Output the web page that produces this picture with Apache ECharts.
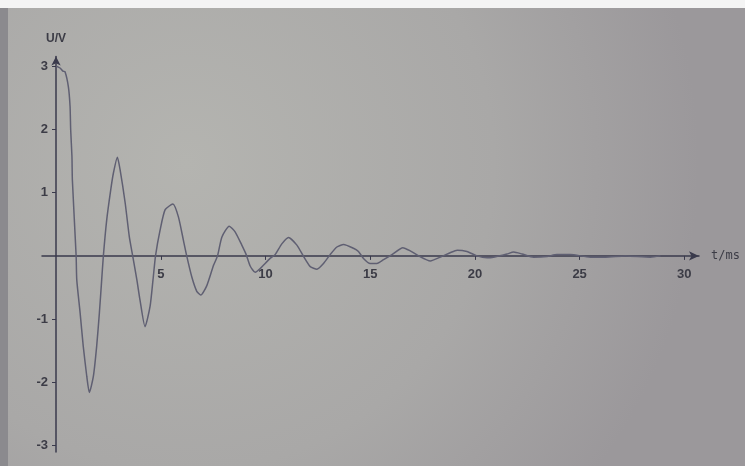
<!DOCTYPE html>
<html>
<head>
<meta charset="utf-8">
<script src="https://cdn.jsdelivr.net/npm/echarts@6/dist/echarts.min.js"></script>
<style>html,body{margin:0;padding:0;}#c{width:745px;height:466px;}</style>
</head>
<body>
<div id="c"></div>
<script>
// time in ms
var tValues = [0.02,0.19,0.33,0.43,0.59,0.67,0.70,0.76,0.78,0.96,0.99,1.15,1.30,1.47,1.59,1.78,1.94,2.07,2.18,2.26,2.42,2.61,2.74,2.93,3.06,3.30,3.50,3.66,3.86,4.01,4.25,4.49,4.63,4.75,4.97,5.21,5.58,5.84,6.08,6.24,6.48,6.72,6.91,7.20,7.52,7.71,7.92,8.27,8.55,8.87,9.08,9.27,9.51,9.75,10.22,10.46,10.78,11.10,11.50,11.82,12.14,12.46,12.77,13.09,13.41,13.73,14.20,14.44,14.68,15.00,15.32,15.64,16.04,16.56,16.91,17.31,17.87,18.35,18.82,19.15,19.62,20.10,20.58,20.89,21.53,21.85,22.25,22.80,23.44,23.92,24.56,25.51,26.23,27.19,28.38,28.86];
// voltage in V
var uValues = [3.00,2.97,2.92,2.91,2.67,2.36,1.99,1.57,1.20,0.00,-0.38,-0.90,-1.43,-1.91,-2.16,-1.91,-1.43,-0.90,-0.38,0.00,0.57,1.04,1.31,1.56,1.36,0.84,0.30,0.00,-0.38,-0.70,-1.12,-0.80,-0.38,0.00,0.41,0.73,0.82,0.62,0.25,0.00,-0.33,-0.56,-0.62,-0.47,-0.15,0.00,0.30,0.47,0.38,0.17,0.02,-0.16,-0.26,-0.20,-0.04,0.02,0.19,0.29,0.17,-0.01,-0.17,-0.21,-0.12,0.02,0.14,0.18,0.12,0.07,-0.04,-0.12,-0.12,-0.06,0.02,0.13,0.08,0.00,-0.08,-0.02,0.05,0.09,0.07,0.00,-0.03,-0.02,0.03,0.06,0.03,-0.02,-0.01,0.02,0.02,-0.02,-0.02,0.00,-0.02,0.00];
var xTicks = [5,10,15,20,25,30];
var yTicks = [-3,-2,-1,1,2,3];

var data = tValues.map(function(t,i){return [t,uValues[i]];});
var chart = echarts.init(document.getElementById('c'), null, {renderer:'canvas'});
var labelFont = {fontFamily:'Liberation Sans', fontSize:13, fontWeight:'bold', color:'#3c3c46'};
chart.setOption({
  animation:false,
  backgroundColor:{type:'radial', x:0.25, y:0.35, r:1.1, colorStops:[{offset:0,color:'#b4b4b0'},{offset:0.6,color:'#a9a8a7'},{offset:1,color:'#9b989b'}]},
  graphic:[
    {type:'rect', left:0, top:0, shape:{width:745,height:8}, style:{fill:'#f4f4f4'}, z:-1},
    {type:'rect', left:0, top:8, shape:{width:8,height:458}, style:{fill:'#8b8a8e'}, z:-1}
  ],
  grid:{left:42, right:46, top:56.6, bottom:14, containLabel:false},
  xAxis:{
    type:'value', min:-0.67, max:30.7, position:'bottom', offset:-196.1,
    axisLine:{onZero:false, lineStyle:{color:'#3a3a4c', width:1.5}, symbol:['none','arrow'], symbolSize:[7,10], symbolOffset:[0,0]},
    axisTick:{show:true, length:4, customValues:xTicks, lineStyle:{color:'#3a3a4c'}},
    axisLabel:Object.assign({customValues:xTicks, margin:12}, labelFont),
    splitLine:{show:false},
    name:'t/ms', nameLocation:'end', nameGap:12,
    nameTextStyle:{fontFamily:'DejaVu Sans Mono', fontSize:12, color:'#3c3c46', align:'left', verticalAlign:'middle'}
  },
  yAxis:{
    type:'value', min:-3.1, max:3.15, position:'left', offset:-14,
    axisLine:{onZero:false, lineStyle:{color:'#3a3a4c', width:1.5}, symbol:['none','arrow'], symbolSize:[7,9], symbolOffset:[0,0]},
    axisTick:{show:true, length:4, customValues:yTicks, lineStyle:{color:'#3a3a4c'}},
    axisLabel:Object.assign({customValues:yTicks, margin:8}, labelFont),
    splitLine:{show:false},
    name:'U/V', nameLocation:'end', nameGap:12,
    nameTextStyle:{fontFamily:'Liberation Sans', fontSize:12, fontWeight:'bold', color:'#3c3c46', align:'center'}
  },
  series:[{
    type:'line', data:data, showSymbol:false, smooth:0.2,
    lineStyle:{color:'#5f5f72', width:1.5}
  }]
});
</script>
</body>
</html>
